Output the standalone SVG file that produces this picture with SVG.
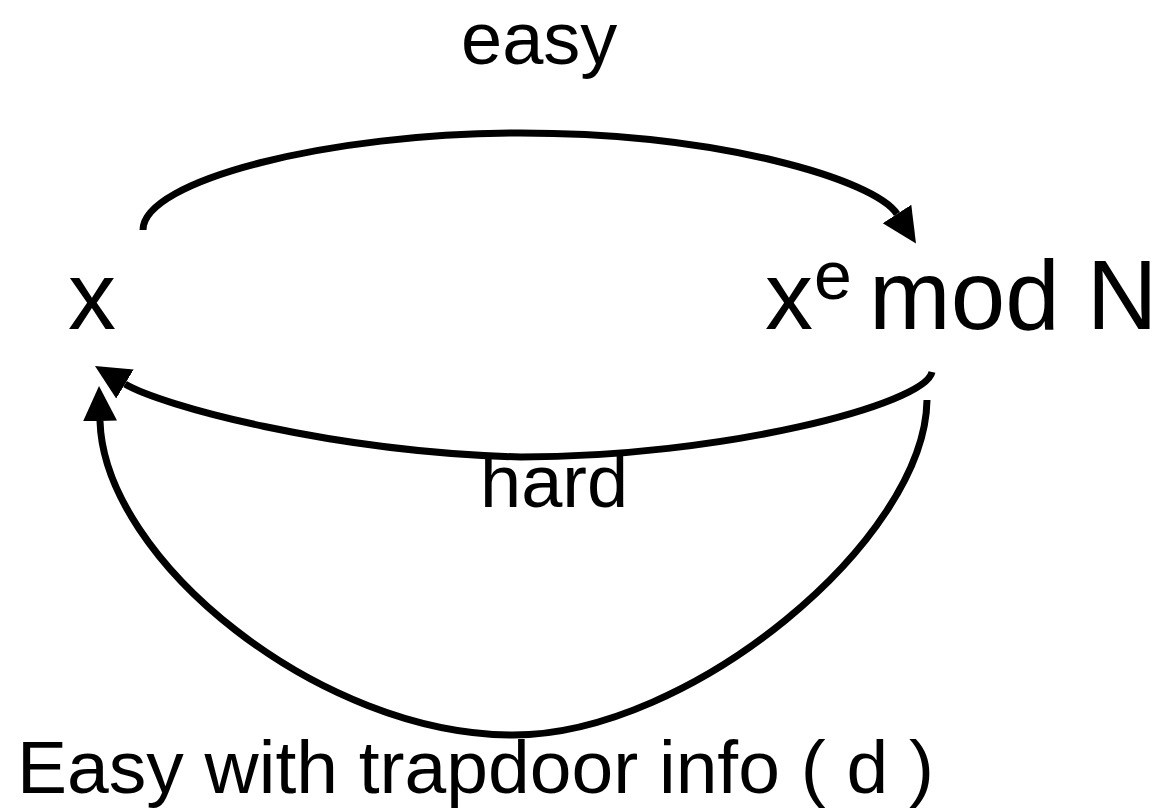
<svg xmlns="http://www.w3.org/2000/svg" width="1158" height="811" viewBox="0 0 1158 811">
  <style>
    .t { font-family: "Liberation Sans", Arial, sans-serif; fill: #000; }
    .edge { fill: none; stroke: #000; stroke-width: 7; }
  </style>
  <defs>
    <marker id="arrow" markerUnits="userSpaceOnUse" markerWidth="36" markerHeight="36" refX="0" refY="17" orient="auto">
      <path d="M0,0 L35,17 L0,34 z" fill="#000"/>
    </marker>
  </defs>
  <rect width="1158" height="811" fill="#fff"/>
  <g id="connectors">
    <path id="edge-easy" class="edge" marker-end="url(#arrow)" d="M143,230 C143,180 330,133 520,133 C720,133 875,180 897,214"/>
    <path id="edge-hard" class="edge" marker-end="url(#arrow)" d="M932,372 C925,405 720,457 521,457 C330,452 160,405 125,384"/>
    <path id="edge-trapdoor" class="edge" marker-end="url(#arrow)" d="M927,400 C925,540 690,735 513,735 C320,735 104,560 100,421"/>
  </g>
  <g id="node-x">
    <text class="t" x="68" y="329" font-size="96">x</text>
  </g>
  <g id="node-xe-mod-n">
    <text class="t" x="765" y="329" font-size="96">x</text>
    <text class="t" x="814" y="299" font-size="68">e</text>
    <text class="t" x="869" y="329" font-size="98">mod N</text>
  </g>
  <g id="labels">
    <text class="t" x="461" y="64" font-size="74">easy</text>
    <text class="t" x="480" y="507" font-size="74">hard</text>
    <text class="t" x="17" y="793" font-size="75">Easy with trapdoor info ( d )</text>
  </g>
</svg>
